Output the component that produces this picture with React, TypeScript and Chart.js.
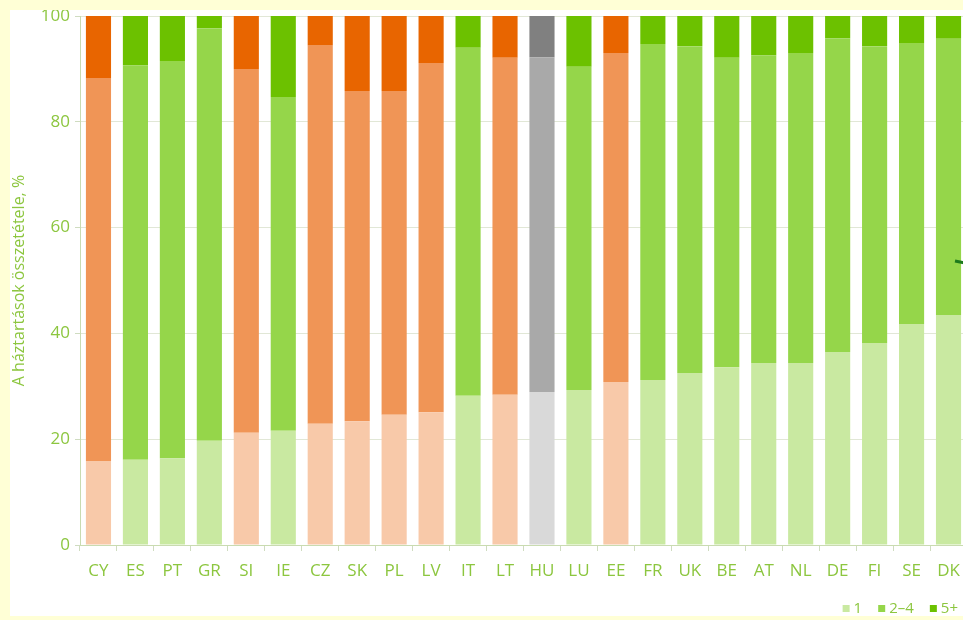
import React, { useEffect, useRef } from 'react';
import { Chart, registerables } from 'chart.js';

Chart.register(...registerables);

const categories = ['CY', 'ES', 'PT', 'GR', 'SI', 'IE', 'CZ', 'SK', 'PL', 'LV', 'IT', 'LT', 'HU', 'LU', 'EE', 'FR', 'UK', 'BE', 'AT', 'NL', 'DE', 'FI', 'SE', 'DK'];
// colour group of each bar: o = orange, g = green, h = grey
const groups = ['o', 'g', 'g', 'g', 'o', 'g', 'o', 'o', 'o', 'o', 'g', 'o', 'h', 'g', 'o', 'g', 'g', 'g', 'g', 'g', 'g', 'g', 'g', 'g'];
const onePerson = [15.9, 16.1, 16.4, 19.7, 21.2, 21.6, 22.9, 23.4, 24.6, 25.1, 28.2, 28.4, 28.9, 29.3, 30.8, 31.2, 32.5, 33.6, 34.4, 34.4, 36.5, 38.2, 41.8, 43.5];
const twoToFour = [72.4, 74.6, 75.1, 78.0, 68.8, 63.1, 71.6, 62.4, 61.2, 66.0, 65.8, 63.7, 63.3, 61.1, 62.2, 63.5, 61.8, 58.5, 58.2, 58.6, 59.3, 56.1, 53.1, 52.2];
const fivePlus = [11.7, 9.3, 8.5, 2.3, 10.0, 15.3, 5.5, 14.2, 14.2, 8.9, 6.0, 7.9, 7.8, 9.6, 7.0, 5.3, 5.7, 7.9, 7.4, 7.0, 4.2, 5.7, 5.1, 4.3];
const seriesLabels = ['1', '2–4', '5+'];
const yTitle = 'A háztartások összetétele, %';

const palette: Record<string, string[]> = {
  g: ['#c9e9a1', '#95d64a', '#6cc100'],
  o: ['#f8c9a9', '#f09556', '#e86500'],
  h: ['#d9d9d9', '#a9a9a9', '#808080'],
};

const textGreen = '#8cc63f';
const fontFamily = "'Open Sans', sans-serif";

export default function App() {
  const ref = useRef<HTMLCanvasElement>(null);

  useEffect(() => {
    if (!ref.current) return;
    const series = [onePerson, twoToFour, fivePlus];
    const legendPlugin = {
      id: 'customLegend',
      afterDraw(chart: any) {
        const ctx = chart.ctx;
        ctx.save();
        ctx.font = `15px ${fontFamily}`;
        ctx.textBaseline = 'alphabetic';
        const sq = 7;
        const gapAfterSq = 4;
        const gapBetween = 16;
        let total = 0;
        const widths = seriesLabels.map((l) => ctx.measureText(l).width);
        widths.forEach((w, i) => {
          total += sq + gapAfterSq + w + (i < widths.length - 1 ? gapBetween : 0);
        });
        let x = 948 - total;
        const yBase = 603;
        seriesLabels.forEach((l, i) => {
          ctx.fillStyle = palette.g[i];
          ctx.fillRect(x, yBase - 8, sq, sq);
          x += sq + gapAfterSq;
          ctx.fillStyle = textGreen;
          ctx.fillText(l, x, yBase);
          x += widths[i] + gapBetween;
        });
        // small dark green arrow tip at the right edge
        ctx.strokeStyle = '#1d7a1d';
        ctx.lineWidth = 3;
        ctx.beginPath();
        ctx.moveTo(945, 251);
        ctx.lineTo(955, 253);
        ctx.stroke();
        ctx.restore();
      },
    };

    const chart = new Chart(ref.current, {
      type: 'bar',
      data: {
        labels: categories,
        datasets: series.map((vals, si) => ({
          label: seriesLabels[si],
          data: vals,
          backgroundColor: groups.map((g) => palette[g][si]),
          borderWidth: 0,
          categoryPercentage: 0.68,
          barPercentage: 1,
        })),
      },
      options: {
        animation: false,
        responsive: false,
        maintainAspectRatio: false,
        layout: { padding: { top: 6, left: 0, right: 0, bottom: 0 } },
        plugins: {
          legend: { display: false },
          tooltip: { enabled: false },
        },
        scales: {
          x: {
            stacked: true,
            offset: true,
            grid: {
              display: true,
              drawOnChartArea: false,
              drawTicks: true,
              tickLength: 6,
              color: '#cfdcc0',
              offset: true,
            },
            border: { display: true, color: '#c9dbb0', width: 1 },
            ticks: {
              color: textGreen,
              font: { family: fontFamily, size: 17 },
              padding: 10,
              maxRotation: 0,
              autoSkip: false,
            },
            afterFit(s: any) {
              s.height = 71;
              s.paddingLeft = 0;
              s.paddingRight = 0;
            },
          },
          y: {
            stacked: true,
            min: 0,
            max: 100,
            ticks: {
              stepSize: 20,
              color: textGreen,
              font: { family: fontFamily, size: 17 },
              padding: 5,
            },
            grid: {
              color: '#e1e7d6',
              tickLength: 5,
              tickColor: '#cfdcc0',
            },
            border: { display: true, color: '#c9dbb0', width: 1 },
            title: {
              display: true,
              text: yTitle,
              color: textGreen,
              font: { family: fontFamily, size: 16 },
              padding: { top: 0, bottom: 0 },
            },
            afterFit(s: any) {
              s.width = 70;
              s.paddingTop = 0;
              s.paddingBottom = 0;
            },
          },
        },
      },
      plugins: [legendPlugin],
    });
    return () => chart.destroy();
  }, []);

  return (
    <div
      style={{
        position: 'fixed',
        left: 0,
        top: 0,
        width: 963,
        height: 620,
        overflow: 'hidden',
        background: '#ffffd6',
      }}
    >
      <div
        style={{
          position: 'absolute',
          left: 10,
          top: 10,
          width: 960,
          height: 606,
          background: '#ffffff',
          overflow: 'hidden',
        }}
      >
        <canvas ref={ref} width={957} height={606} style={{ display: 'block', width: 957, height: 606 }} />
      </div>
    </div>
  );
}
